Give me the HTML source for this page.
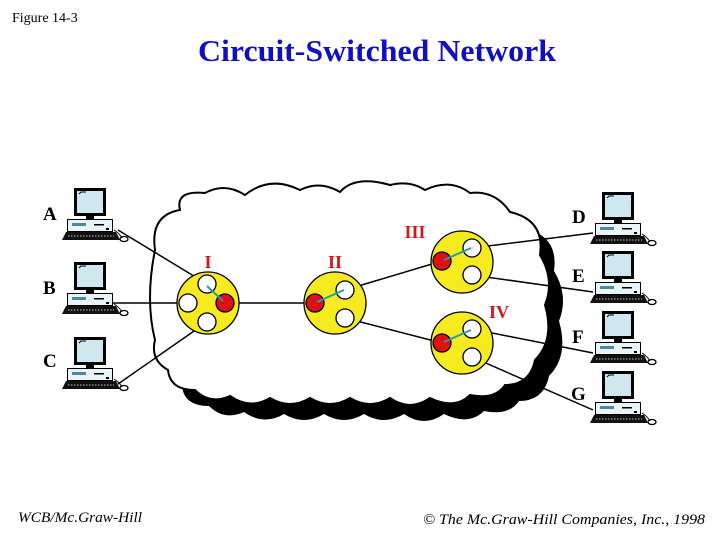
<!DOCTYPE html>
<html><head><style>
html,body{margin:0;padding:0;background:#fff;}
body{width:720px;height:540px;position:relative;overflow:hidden;}
</style></head><body>
<svg width="720" height="540" xmlns="http://www.w3.org/2000/svg">
<defs>
<g id="pc">
  <rect x="12" y="0" width="32" height="28" fill="#000"/>
  <rect x="15" y="3" width="26" height="22" fill="#cfe8f0"/>
  <path d="M17,6 L19,4 L24,4" stroke="#000" fill="none" stroke-width="1"/>
  <rect x="24" y="28" width="8" height="3" fill="#000"/>
  <rect x="5" y="31" width="46" height="13" fill="#000"/>
  <rect x="6" y="32" width="44" height="11" fill="#e8f4f6"/>
  <rect x="10" y="35" width="14" height="3" fill="#4a8a9a"/>
  <rect x="32" y="36" width="10" height="1.5" fill="#000"/>
  <rect x="44" y="40" width="3" height="2" fill="#000"/>
  <path d="M0,52 L4,44 L54,44 L58,52 Z" fill="#111"/>
  <line x1="6" y1="48" x2="52" y2="48" stroke="#fff" stroke-width="0.8" stroke-dasharray="1.5,1.5"/>
  <ellipse cx="62" cy="51" rx="4" ry="2.5" fill="#fff" stroke="#000" stroke-width="1.3"/>
  <path d="M52,42 Q58,46 60,50" stroke="#000" fill="none"/>
</g>
</defs>

<text x="12" y="22" font-family="Liberation Serif, serif" font-size="14">Figure 14-3</text>
<text x="377" y="61" text-anchor="middle" font-family="Liberation Serif, serif" font-size="31" font-weight="bold" fill="#1010c0" textLength="358" lengthAdjust="spacingAndGlyphs">Circuit-Switched Network</text>

<!-- cloud shadow -->
<path transform="translate(14,16)" d="M155,250 Q150,215 180,210 Q175,190 205,193 Q225,182 245,195 Q270,175 300,190 Q320,180 340,192 Q355,175 390,185 Q410,180 425,190 Q450,178 470,193 Q495,190 510,212 Q545,220 540,255 Q555,280 545,305 Q555,340 535,360 Q530,385 505,385 Q495,400 470,395 Q455,410 430,398 Q410,412 390,398 Q370,410 350,398 Q330,410 310,398 Q290,410 270,398 Q250,410 230,396 Q210,405 195,390 Q170,390 168,370 Q150,360 155,340 Q145,300 155,250 Z" fill="#000"/>
<!-- cloud -->
<path d="M155,250 Q150,215 180,210 Q175,190 205,193 Q225,182 245,195 Q270,175 300,190 Q320,180 340,192 Q355,175 390,185 Q410,180 425,190 Q450,178 470,193 Q495,190 510,212 Q545,220 540,255 Q555,280 545,305 Q555,340 535,360 Q530,385 505,385 Q495,400 470,395 Q455,410 430,398 Q410,412 390,398 Q370,410 350,398 Q330,410 310,398 Q290,410 270,398 Q250,410 230,396 Q210,405 195,390 Q170,390 168,370 Q150,360 155,340 Q145,300 155,250 Z" fill="#fff" stroke="#000" stroke-width="2"/>

<!-- lines -->
<g stroke="#000" stroke-width="1.5" fill="none">
<line x1="118" y1="230" x2="207" y2="284"/>
<line x1="112" y1="303" x2="188" y2="303"/>
<line x1="118" y1="384" x2="207" y2="322"/>
<line x1="225" y1="303" x2="315" y2="303"/>
<line x1="345" y1="290" x2="442" y2="261"/>
<line x1="345" y1="318" x2="442" y2="343"/>
<line x1="472" y1="248" x2="593" y2="233"/>
<line x1="472" y1="275" x2="593" y2="292"/>
<line x1="472" y1="329" x2="593" y2="353"/>
<line x1="472" y1="357" x2="593" y2="410"/>
</g>

<!-- switches -->
<g stroke="#000" stroke-width="1.3">
<circle cx="208" cy="303" r="31" fill="#f5eb1e"/>
<circle cx="335" cy="303" r="31" fill="#f5eb1e"/>
<circle cx="462" cy="262" r="31" fill="#f5eb1e"/>
<circle cx="462" cy="343" r="31" fill="#f5eb1e"/>
<circle cx="207" cy="284" r="9" fill="#fff"/>
<circle cx="188" cy="303" r="9" fill="#fff"/>
<circle cx="207" cy="322" r="9" fill="#fff"/>
<circle cx="225" cy="303" r="9" fill="#e01010"/>
<circle cx="315" cy="303" r="9" fill="#e01010"/>
<circle cx="345" cy="290" r="9" fill="#fff"/>
<circle cx="345" cy="318" r="9" fill="#fff"/>
<circle cx="442" cy="261" r="9" fill="#e01010"/>
<circle cx="472" cy="248" r="9" fill="#fff"/>
<circle cx="472" cy="275" r="9" fill="#fff"/>
<circle cx="442" cy="343" r="9" fill="#e01010"/>
<circle cx="472" cy="329" r="9" fill="#fff"/>
<circle cx="472" cy="357" r="9" fill="#fff"/>
</g>
<g stroke="#2a9aa8" stroke-width="2">
<line x1="207" y1="286" x2="223" y2="301"/>
<line x1="317" y1="302" x2="344" y2="290"/>
<line x1="444" y1="260" x2="471" y2="248"/>
<line x1="444" y1="342" x2="471" y2="330"/>
</g>

<g font-family="Liberation Serif, serif" font-weight="bold" font-size="18" fill="#d01818" text-anchor="middle">
<text x="208" y="268">I</text>
<text x="335" y="268">II</text>
<text x="415" y="238">III</text>
<text x="499" y="318">IV</text>
</g>

<!-- computers -->
<use href="#pc" x="62" y="188"/>
<use href="#pc" x="62" y="262"/>
<use href="#pc" x="62" y="337"/>
<use href="#pc" x="590" y="192"/>
<use href="#pc" x="590" y="251"/>
<use href="#pc" x="590" y="311"/>
<use href="#pc" x="590" y="371"/>

<g font-family="Liberation Serif, serif" font-weight="bold" font-size="19" fill="#000">
<text x="43" y="220">A</text>
<text x="43" y="294">B</text>
<text x="43" y="367">C</text>
<text x="572" y="223">D</text>
<text x="572" y="282">E</text>
<text x="572" y="343">F</text>
<text x="571" y="400">G</text>
</g>

<text x="18" y="522" font-family="Liberation Serif, serif" font-style="italic" font-size="15" textLength="124" lengthAdjust="spacingAndGlyphs">WCB/Mc.Graw-Hill</text>
<text x="423" y="524" font-family="Liberation Serif, serif" font-style="italic" font-size="15" textLength="282" lengthAdjust="spacingAndGlyphs">© The Mc.Graw-Hill Companies, Inc., 1998</text>
</svg>
</body></html>
